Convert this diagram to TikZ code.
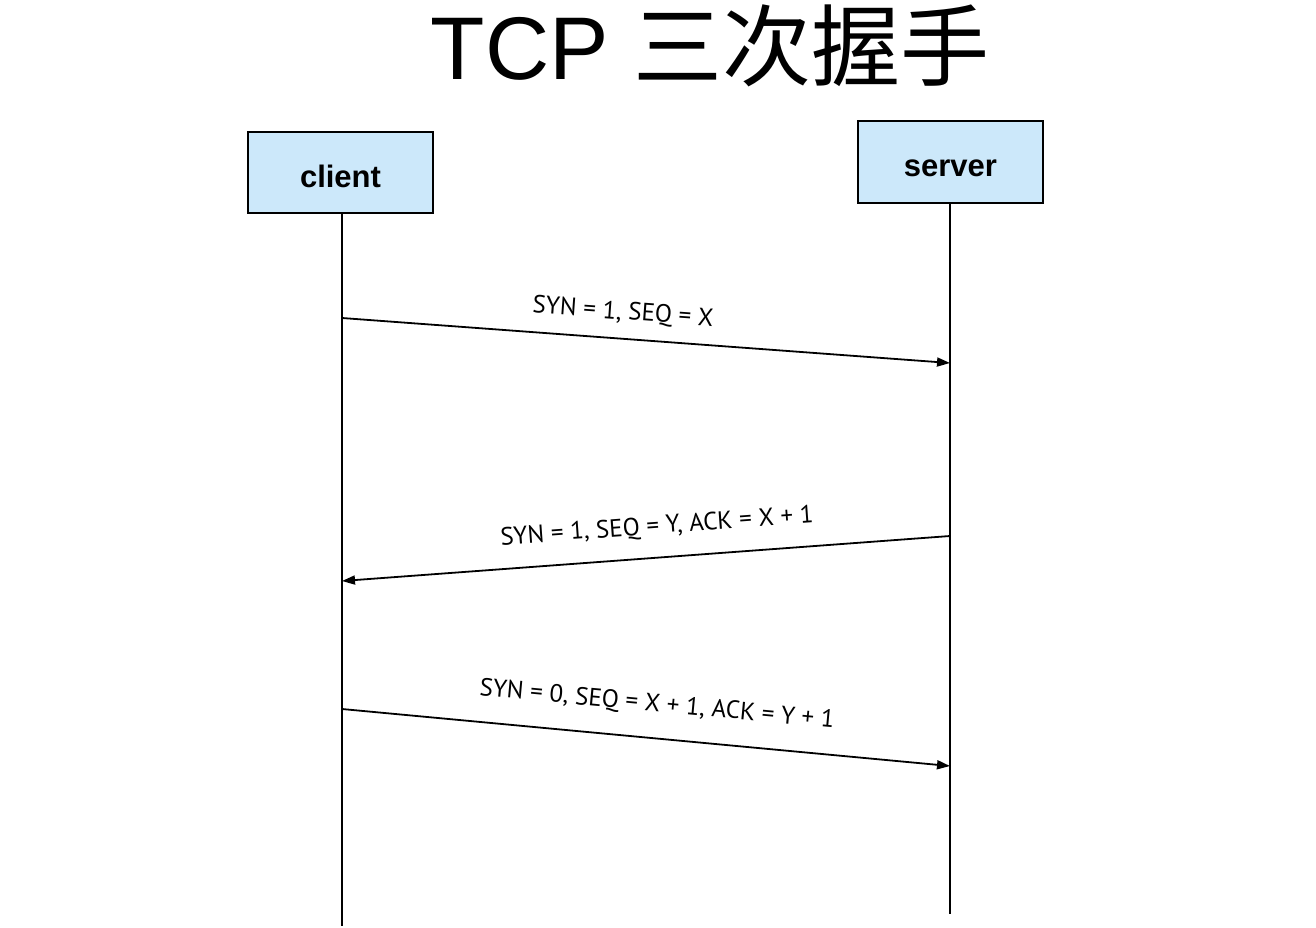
\documentclass[tikz,border=0pt]{standalone}
\usepackage{fontspec}
\setmainfont{Liberation Sans}
\newfontfamily\cjk{Noto Sans CJK SC}
\newfontfamily\lblfont{PT Sans}
\usetikzlibrary{arrows.meta}
\definecolor{boxblue}{HTML}{CCE8FA}
\tikzset{
  actor/.style={draw=black, line width=2pt, fill=boxblue, minimum width=185pt, minimum height=81pt, inner sep=0pt, text height=29pt, text depth=0pt, font=\fontsize{31}{33}\selectfont\bfseries},
  lifeline/.style={line width=2.4pt},
  msg/.style={line width=1.8pt, -{Triangle[length=13pt,width=9pt]}},
  msglabel/.style={font=\lblfont\fontsize{25}{27}\selectfont, inner sep=0pt}
}
\begin{document}
\begin{tikzpicture}[x=1pt,y=-1pt]
\useasboundingbox (0,0) rectangle (1316,928);
\node[anchor=base, inner sep=0pt] (title) at (710,80) {\fontsize{89}{91}\selectfont TCP {\cjk 三次握手}};
\node[actor] (client) at (340.5,172.5) {client};
\node[actor] (server) at (950.5,162) {server};
\coordinate (cend) at (342,926);
\coordinate (send) at (950,914);
\draw[lifeline] (client.south -| cend) -- (cend);
\draw[lifeline] (server.south -| send) -- (send);
\coordinate (c1) at (342,318);
\coordinate (s1) at (950,363);
\coordinate (s2) at (950,536);
\coordinate (c2) at (342,581);
\coordinate (c3) at (342,709);
\coordinate (s3) at (950,766);
\draw[msg] (c1) -- (s1);
\draw[msg] (s2) -- (c2);
\draw[msg] (c3) -- (s3);
\node[msglabel, rotate=-4.2] (l1) at (623,313) {SYN = 1, SEQ = X};
\node[msglabel, rotate=4.2] (l2) at (657,527) {SYN = 1, SEQ = Y, ACK = X + 1};
\node[msglabel, rotate=-5.3] (l3) at (657,705) {SYN = 0, SEQ = X + 1, ACK = Y + 1};
\end{tikzpicture}
\end{document}
